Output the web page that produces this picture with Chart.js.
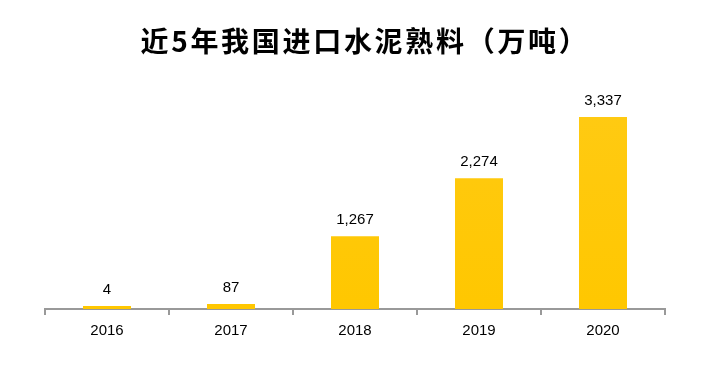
<!DOCTYPE html>
<html>
<head>
<meta charset="utf-8">
<script src="https://cdn.jsdelivr.net/npm/chart.js@4"></script>
<style>
    html, body { margin: 0; padding: 0; background: #fff; }
    #wrap { width: 710px; height: 365px; position: relative; }
</style>
</head>
<body>
<div id="wrap"><canvas id="clinkerChart"></canvas></div>
<script>
// Imported cement clinker, last 5 years (10k tonnes)
const years = ['2016', '2017', '2018', '2019', '2020'];
const importVolumes = [4, 87, 1267, 2274, 3337];
const chartTitle = '近5年我国进口水泥熟料（万吨）';

// Title drawn by hand so it can get a little letter spacing
const spacedTitle = {
    id: 'spacedTitle',
    afterDraw(chart) {
        const c = chart.ctx;
        c.save();
        c.font = 'bold 28px "Noto Sans CJK SC", sans-serif';
        c.letterSpacing = '2.7px';
        c.fillStyle = '#000';
        c.textAlign = 'center';
        c.textBaseline = 'middle';
        c.fillText(chartTitle, 365, 41);
        c.restore();
    }
};

// Value labels above each bar
const valueLabels = {
    id: 'valueLabels',
    afterDatasetsDraw(chart) {
        const c = chart.ctx;
        const meta = chart.getDatasetMeta(0);
        c.save();
        c.font = '15px "Liberation Sans", Arial, sans-serif';
        c.fillStyle = '#000';
        c.textAlign = 'center';
        c.textBaseline = 'bottom';
        meta.data.forEach((bar, i) => {
            c.fillText(importVolumes[i].toLocaleString('en-US'), bar.x, bar.y - 9);
        });
        c.restore();
    }
};

const ctx = document.getElementById('clinkerChart').getContext('2d');
const grad = ctx.createLinearGradient(0, 80, 0, 309);
grad.addColorStop(0, '#FFCD24');
grad.addColorStop(0.15, '#FFCA12');
grad.addColorStop(1, '#FFC700');

new Chart(ctx, {
    type: 'bar',
    data: {
        labels: years,
        datasets: [{
            data: importVolumes,
            backgroundColor: grad,
            borderWidth: 0,
            minBarLength: 3,
            categoryPercentage: 1,
            barPercentage: 48 / 124
        }]
    },
    options: {
        responsive: true,
        maintainAspectRatio: false,
        animation: false,
        layout: { padding: { left: 45, right: 45, top: 79, bottom: 18 } },
        plugins: {
            legend: { display: false },
            tooltip: { enabled: false },
            title: { display: false }
        },
        scales: {
            y: {
                display: false,
                min: 0,
                max: 4000
            },
            x: {
                offset: true,
                border: { display: true, color: '#999', width: 2 },
                grid: {
                    display: true,
                    offset: true,
                    drawOnChartArea: false,
                    drawTicks: true,
                    tickLength: 6,
                    color: '#999',
                    lineWidth: 2
                },
                ticks: {
                    color: '#000',
                    padding: 7,
                    font: { family: '"Liberation Sans", Arial, sans-serif', size: 15 }
                }
            }
        }
    },
    plugins: [valueLabels, spacedTitle]
});
</script>
</body>
</html>
